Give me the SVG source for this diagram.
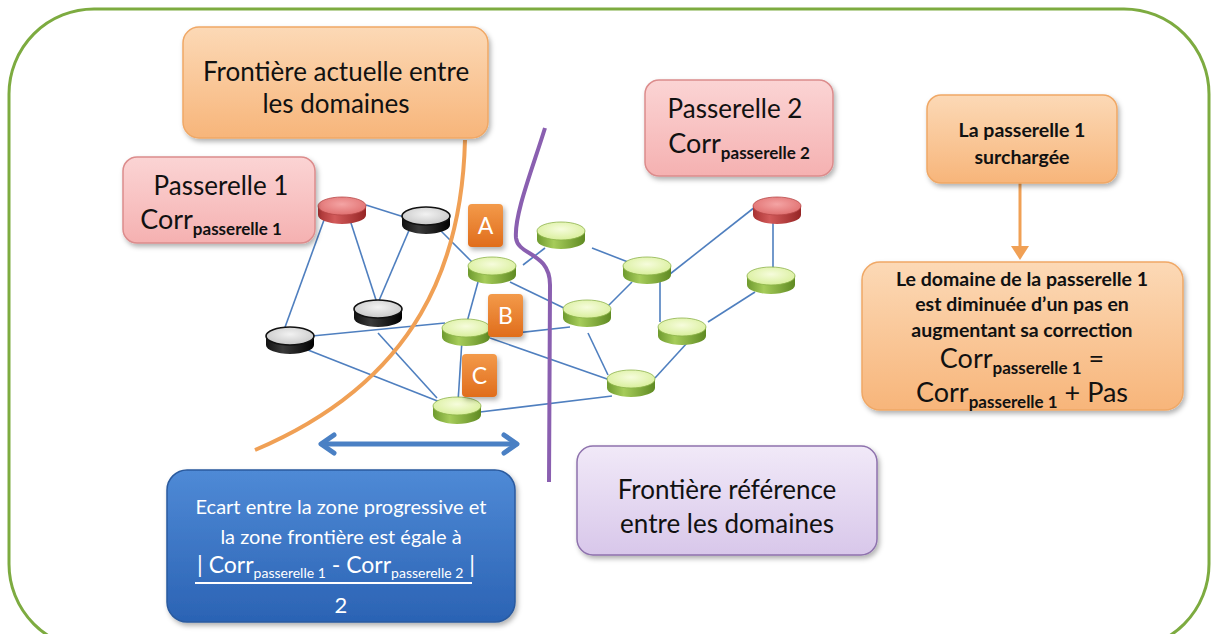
<svg xmlns="http://www.w3.org/2000/svg" xmlns:xlink="http://www.w3.org/1999/xlink" width="1214" height="634" viewBox="0 0 1214 634">
<style>
text{font-family:Lato,"Liberation Sans",sans-serif;fill:#111;text-anchor:middle}
.edge{stroke:#4f7fbf;stroke-width:1.6;fill:none}
.big{font-size:26px}
.corr{font-size:27px}
.sub{font-size:17px;font-weight:bold}
.bold{font-size:19.5px;font-weight:bold}
.lbl{fill:#fff;font-size:23px}
.wt{fill:#fff}
</style>
<defs>
<filter id="sh" x="-10%" y="-10%" width="125%" height="130%"><feDropShadow dx="2" dy="3" stdDeviation="2.5" flood-color="#000" flood-opacity="0.3"/></filter>
<linearGradient id="gOr" x1="0" y1="0" x2="0" y2="1"><stop offset="0" stop-color="#fcd9b6"/><stop offset="1" stop-color="#f7b57a"/></linearGradient>
<linearGradient id="gPk" x1="0" y1="0" x2="0" y2="1"><stop offset="0" stop-color="#fbd4d4"/><stop offset="1" stop-color="#f5b1b1"/></linearGradient>
<linearGradient id="gBl" x1="0" y1="0" x2="0" y2="1"><stop offset="0" stop-color="#4f8ad6"/><stop offset="1" stop-color="#2b63b4"/></linearGradient>
<linearGradient id="gPu" x1="0" y1="0" x2="0" y2="1"><stop offset="0" stop-color="#f1e9f8"/><stop offset="1" stop-color="#d8c7ea"/></linearGradient>
<linearGradient id="gLb" x1="0" y1="0" x2="0" y2="1"><stop offset="0" stop-color="#f39a4a"/><stop offset="1" stop-color="#e06d1c"/></linearGradient>
<linearGradient id="sGr" x1="0" y1="0" x2="1" y2="0"><stop offset="0" stop-color="#6e9a2e"/><stop offset="0.35" stop-color="#a6cc5a"/><stop offset="1" stop-color="#5f8a22"/></linearGradient>
<linearGradient id="sBk" x1="0" y1="0" x2="1" y2="0"><stop offset="0" stop-color="#111"/><stop offset="0.35" stop-color="#3a3a3a"/><stop offset="1" stop-color="#000"/></linearGradient>
<linearGradient id="sRd" x1="0" y1="0" x2="1" y2="0"><stop offset="0" stop-color="#a83232"/><stop offset="0.35" stop-color="#d25a5a"/><stop offset="1" stop-color="#962525"/></linearGradient>
<radialGradient id="tGr" cx="0.5" cy="0.4" r="0.6"><stop offset="0" stop-color="#f6fcdc"/><stop offset="1" stop-color="#d9ef9c"/></radialGradient>
<radialGradient id="tBk" cx="0.5" cy="0.4" r="0.6"><stop offset="0" stop-color="#f2f2f2"/><stop offset="1" stop-color="#c8c8c8"/></radialGradient>
<radialGradient id="tRd" cx="0.5" cy="0.4" r="0.6"><stop offset="0" stop-color="#f4a4a4"/><stop offset="1" stop-color="#e07070"/></radialGradient>
<g id="cylG"><path d="M-24,-4 L-24,5 A24,9 0 0 0 24,5 L24,-4 Z" fill="url(#sGr)"/><ellipse cx="0" cy="-4" rx="24" ry="9" fill="url(#tGr)" stroke="#8db34a" stroke-width="0.8"/></g>
<g id="cylK"><path d="M-24,-4 L-24,5 A24,9 0 0 0 24,5 L24,-4 Z" fill="url(#sBk)"/><ellipse cx="0" cy="-4" rx="24" ry="9" fill="url(#tBk)" stroke="#111" stroke-width="1.6"/></g>
<g id="cylR"><path d="M-24,-4 L-24,5 A24,9 0 0 0 24,5 L24,-4 Z" fill="url(#sRd)"/><ellipse cx="0" cy="-4" rx="24" ry="9" fill="url(#tRd)" stroke="#b84848" stroke-width="0.8"/></g>
</defs>
<rect width="1214" height="634" fill="#fff"/>
<rect id="frame" x="9" y="9" width="1200" height="640" rx="85" ry="85" fill="none" stroke="#7dab40" stroke-width="3"/>

<g id="connectors">
<line class="edge" x1="366" y1="205" x2="404" y2="217"/>
<line class="edge" x1="324" y1="220" x2="284" y2="330"/>
<line class="edge" x1="350" y1="220" x2="377" y2="303"/>
<line class="edge" x1="410" y1="228" x2="378" y2="303"/>
<line class="edge" x1="440" y1="230" x2="472" y2="262"/>
<line class="edge" x1="312" y1="336" x2="445" y2="323"/>
<line class="edge" x1="308" y1="350" x2="440" y2="402"/>
<line class="edge" x1="378" y1="333" x2="437" y2="398"/>
<line class="edge" x1="523" y1="265" x2="545" y2="248"/>
<line class="edge" x1="478" y1="282" x2="467" y2="322"/>
<line class="edge" x1="510" y1="282" x2="568" y2="310"/>
<line class="edge" x1="480" y1="337" x2="570" y2="327"/>
<line class="edge" x1="490" y1="338" x2="610" y2="380"/>
<line class="edge" x1="462" y1="340" x2="458" y2="402"/>
<line class="edge" x1="480" y1="412" x2="612" y2="396"/>
<line class="edge" x1="588" y1="333" x2="608" y2="375"/>
<line class="edge" x1="608" y1="306" x2="632" y2="282"/>
<line class="edge" x1="592" y1="248" x2="628" y2="262"/>
<line class="edge" x1="660" y1="280" x2="660" y2="322"/>
<line class="edge" x1="670" y1="274" x2="755" y2="207"/>
<line class="edge" x1="773" y1="220" x2="773" y2="272"/>
<line class="edge" x1="755" y1="292" x2="708" y2="322"/>
<line class="edge" x1="687" y1="343" x2="655" y2="378"/>
<path id="frontiere-actuelle-line" d="M465,140 C462,260 420,380 255,450" fill="none" stroke="#f0a055" stroke-width="4"/>
<path id="frontiere-ref-line" d="M545,128 C532,170 514,215 516,238 C518,256 550,252 550,285 L549,482" fill="none" stroke="#8a5fb0" stroke-width="4"/>
<g id="ecart-arrow" fill="none" stroke="#4a80c4" stroke-width="5" stroke-linecap="round" stroke-linejoin="round">
<line x1="322" y1="444" x2="516" y2="444"/>
<polyline points="334,435 321,444 334,453"/>
<polyline points="504,435 517,444 504,453"/>
</g>
<g id="surcharge-arrow">
<line x1="1020" y1="183" x2="1020" y2="250" stroke="#f0a055" stroke-width="3"/>
<polygon points="1011,246 1029,246 1020,260" fill="#f0a055"/>
</g>
</g>

<g id="n-red1" transform="translate(342,210)"><use xlink:href="#cylR"/></g>
<g id="n-blackA" transform="translate(426,220)"><use xlink:href="#cylK"/></g>
<g id="n-blackB" transform="translate(378,313)"><use xlink:href="#cylK"/></g>
<g id="n-blackC" transform="translate(290,340)"><use xlink:href="#cylK"/></g>
<g id="n-g1" transform="translate(492,270)"><use xlink:href="#cylG"/></g>
<g id="n-g2" transform="translate(561,235)"><use xlink:href="#cylG"/></g>
<g id="n-g3" transform="translate(466,332)"><use xlink:href="#cylG"/></g>
<g id="n-g4" transform="translate(587,313)"><use xlink:href="#cylG"/></g>
<g id="n-g5" transform="translate(457,410)"><use xlink:href="#cylG"/></g>
<g id="n-g6" transform="translate(631,383)"><use xlink:href="#cylG"/></g>
<g id="n-g7" transform="translate(647,270)"><use xlink:href="#cylG"/></g>
<g id="n-g8" transform="translate(682,331)"><use xlink:href="#cylG"/></g>
<g id="n-red2" transform="translate(777,210)"><use xlink:href="#cylR"/></g>
<g id="n-g9" transform="translate(771,280)"><use xlink:href="#cylG"/></g>

<g id="lbl-A"><rect x="468" y="204" width="35" height="43" rx="4" fill="url(#gLb)" filter="url(#sh)"/><text class="lbl" x="485.5" y="234">A</text></g>
<g id="lbl-B"><rect x="488" y="294" width="35" height="43" rx="4" fill="url(#gLb)" filter="url(#sh)"/><text class="lbl" x="505.5" y="324">B</text></g>
<g id="lbl-C"><rect x="462" y="354" width="35" height="43" rx="4" fill="url(#gLb)" filter="url(#sh)"/><text class="lbl" x="479.5" y="384">C</text></g>

<g id="box-frontiere-actuelle">
<rect x="183" y="27" width="305" height="111" rx="16" fill="url(#gOr)" stroke="#f0a866" stroke-width="1.5" filter="url(#sh)"/>
<text class="big" x="336" y="81">Frontière actuelle entre</text>
<text class="big" x="336" y="113">les domaines</text>
</g>

<g id="box-passerelle1">
<rect x="123" y="157" width="192" height="86" rx="14" fill="url(#gPk)" stroke="#dc8c8c" stroke-width="1.5" filter="url(#sh)"/>
<text class="big" x="221" y="195">Passerelle 1</text>
<text class="corr" x="211" y="229">Corr<tspan class="sub" dy="6">passerelle 1</tspan></text>
</g>

<g id="box-passerelle2">
<rect x="645" y="80" width="188" height="96" rx="14" fill="url(#gPk)" stroke="#dc8c8c" stroke-width="1.5" filter="url(#sh)"/>
<text class="big" x="735" y="118">Passerelle 2</text>
<text class="corr" x="739" y="153">Corr<tspan class="sub" dy="6">passerelle 2</tspan></text>
</g>

<g id="box-surchargee">
<rect x="927" y="95" width="190" height="88" rx="14" fill="url(#gOr)" stroke="#f0a866" stroke-width="1.5" filter="url(#sh)"/>
<text class="bold" x="1022" y="137">La passerelle 1</text>
<text class="bold" x="1022" y="164">surchargée</text>
</g>

<g id="box-domaine">
<rect x="862" y="262" width="321" height="148" rx="18" fill="url(#gOr)" stroke="#f0a866" stroke-width="1.5" filter="url(#sh)"/>
<text class="bold" x="1022" y="286">Le domaine de la passerelle 1</text>
<text class="bold" x="1022" y="311">est diminuée d’un pas en</text>
<text class="bold" x="1022" y="337">augmentant sa correction</text>
<text class="corr" x="1022" y="368">Corr<tspan class="sub" dy="6">passerelle 1</tspan><tspan dy="-6"> =</tspan></text>
<text class="corr" x="1022" y="402">Corr<tspan class="sub" dy="6">passerelle 1</tspan><tspan dy="-6"> + Pas</tspan></text>
</g>

<g id="box-ecart">
<rect x="167" y="470" width="348" height="152" rx="20" fill="url(#gBl)" stroke="#2a5a9e" stroke-width="1.5" filter="url(#sh)"/>
<text class="wt" x="341" y="514" font-size="20">Ecart entre la zone progressive et</text>
<text class="wt" x="341" y="544" font-size="20">la zone frontière est égale à</text>
<text class="wt" x="336" y="573" font-size="23">| Corr<tspan font-size="14" dy="5">passerelle 1</tspan><tspan dy="-5"> - Corr</tspan><tspan font-size="14" dy="5">passerelle 2</tspan><tspan dy="-5"> |</tspan></text>
<line x1="195" y1="583" x2="472" y2="583" stroke="#fff" stroke-width="2"/>
<text class="wt" x="341" y="613" font-size="22">2</text>
</g>

<g id="box-frontiere-ref">
<rect x="577" y="446" width="300" height="109" rx="16" fill="url(#gPu)" stroke="#8e72ad" stroke-width="1.5" filter="url(#sh)"/>
<text class="big" x="727" y="499">Frontière référence</text>
<text class="big" x="727" y="533">entre les domaines</text>
</g>
</svg>
